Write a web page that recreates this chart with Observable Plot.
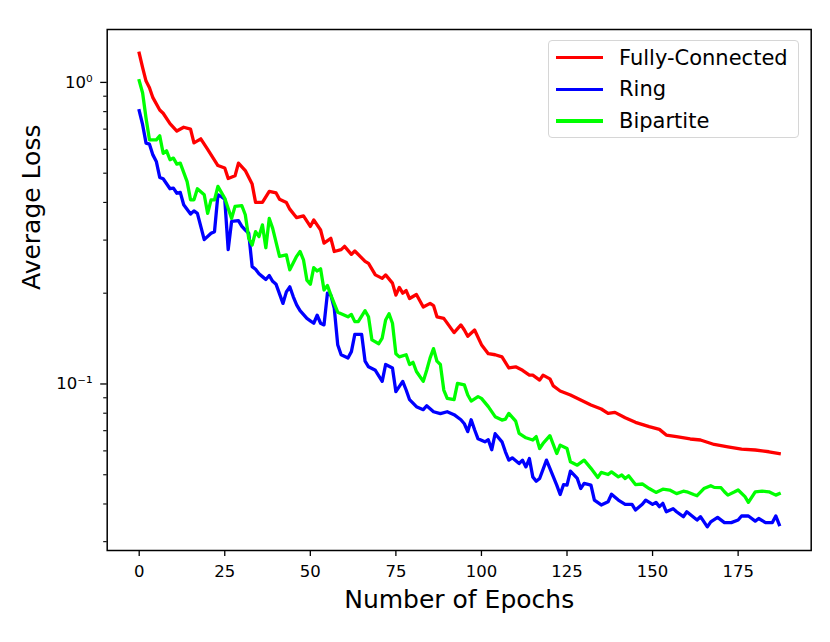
<!DOCTYPE html>
<html>
<head>
<meta charset="utf-8">
<script src="https://cdn.jsdelivr.net/npm/d3@7"></script>
<script src="https://cdn.jsdelivr.net/npm/@observablehq/plot@0.6"></script>
<style>
  html, body { margin: 0; padding: 0; background: #fff; }
  #wrap { position: relative; width: 830px; height: 642px; font-family: "DejaVu Sans", sans-serif; }
  #legend { position: absolute; left: 548px; top: 40px; width: 251px; height: 98px;
            box-sizing: border-box; border: 1.3px solid #d6d6d6; border-radius: 4px; background: rgba(255,255,255,0.8); }
  .row { position: absolute; left: 0; height: 0; }
  .swatch { position: absolute; left: 7px; width: 47px; height: 3.4px; margin-top: -1.7px; }
  .lab { position: absolute; left: 70px; top: -13px; font-size: 21px; line-height: 26px; white-space: nowrap; color: #000; }
</style>
</head>
<body>
<div id="wrap"></div>
<script>
// ---- data (epoch, average loss) ----
const seriesNames = ["Fully-Connected", "Ring", "Bipartite"];
const seriesColors = ["#ff0000", "#0000ff", "#00ff00"];

const fullyConnected = [[0,1.25],[1,1.12],[2,1.01],[3,0.96],[4,0.89],[6,0.81],[7,0.79],[9,0.73],[11,0.69],[13,0.71],[15,0.70],[16,0.63],[18,0.65],[20,0.60],[23,0.53],[25,0.52],[26,0.48],[28,0.49],[29,0.54],[31,0.51],[33,0.46],[34,0.40],[36,0.40],[38,0.435],[40,0.43],[41,0.41],[43,0.40],[44,0.38],[46,0.356],[48,0.361],[50,0.333],[51,0.35],[53,0.324],[54,0.293],[56,0.304],[57,0.275],[59,0.279],[60,0.286],[62,0.269],[63,0.276],[66,0.255],[67,0.251],[69,0.230],[71,0.224],[72,0.230],[74,0.216],[75,0.197],[76,0.209],[77,0.200],[78,0.204],[79,0.192],[81,0.198],[83,0.180],[85,0.185],[86,0.182],[87,0.167],[89,0.165],[92,0.148],[94,0.157],[95,0.151],[96,0.144],[98,0.151],[100,0.135],[102,0.126],[104,0.125],[106,0.123],[108,0.113],[110,0.114],[112,0.111],[114,0.107],[115,0.107],[117,0.103],[118,0.107],[120,0.104],[121,0.0985],[123,0.0948],[126,0.0919],[129,0.0885],[132,0.0852],[135,0.0826],[137,0.0799],[139,0.0805],[142,0.0773],[145,0.0746],[149,0.0722],[152,0.0707],[154,0.0677],[157,0.0669],[161,0.0657],[164,0.0652],[168,0.0630],[172,0.0619],[176,0.0608],[180,0.0604],[184,0.0596],[187,0.0588]];

const ring = [[0,0.806],[1,0.724],[2,0.629],[3,0.624],[4,0.575],[5,0.547],[6,0.484],[7,0.479],[9,0.444],[10,0.446],[11,0.429],[12,0.432],[13,0.393],[15,0.366],[16,0.375],[17,0.368],[19,0.301],[21,0.316],[22,0.320],[23,0.424],[24,0.418],[25,0.41],[26,0.279],[27,0.346],[29,0.348],[30,0.333],[31,0.324],[32,0.316],[33,0.245],[34,0.240],[35,0.232],[36,0.227],[37,0.222],[38,0.229],[39,0.219],[40,0.214],[42,0.185],[43,0.202],[44,0.210],[45,0.195],[46,0.183],[47,0.175],[49,0.165],[50,0.162],[51,0.159],[52,0.169],[53,0.159],[54,0.157],[55,0.200],[56,0.197],[57,0.178],[58,0.135],[59,0.125],[61,0.122],[62,0.128],[63,0.146],[65,0.146],[66,0.119],[67,0.114],[69,0.111],[71,0.102],[72,0.116],[74,0.113],[75,0.0943],[77,0.102],[78,0.0955],[79,0.0887],[81,0.0841],[83,0.0822],[84,0.0847],[86,0.0809],[88,0.0797],[90,0.0809],[92,0.0791],[94,0.0761],[95,0.0738],[96,0.0695],[97,0.0761],[98,0.0705],[99,0.0658],[101,0.0643],[102,0.0653],[103,0.0605],[104,0.0684],[106,0.0643],[107,0.0596],[108,0.0559],[109,0.0569],[111,0.0545],[112,0.0559],[113,0.0531],[114,0.0566],[115,0.0492],[116,0.0476],[117,0.0486],[119,0.0559],[120,0.0525],[122,0.0462],[123,0.0430],[124,0.0464],[125,0.0462],[126,0.0514],[128,0.0486],[129,0.0450],[130,0.0468],[132,0.0462],[133,0.0412],[135,0.0397],[137,0.0407],[138,0.0431],[140,0.0412],[142,0.0399],[144,0.0399],[145,0.0382],[147,0.0399],[148,0.0412],[150,0.0399],[151,0.0405],[152,0.0392],[153,0.0402],[154,0.0377],[156,0.0386],[157,0.0377],[159,0.0363],[160,0.0377],[161,0.0369],[163,0.0354],[164,0.0363],[166,0.0336],[167,0.0349],[169,0.0361],[171,0.0347],[173,0.0347],[175,0.0354],[176,0.0365],[178,0.0365],[180,0.0351],[181,0.0358],[183,0.0347],[185,0.0347],[186,0.0365],[187,0.0342]];

const bipartite = [[0,1.013],[1,0.922],[2,0.761],[3,0.645],[5,0.645],[6,0.665],[7,0.582],[8,0.593],[9,0.554],[10,0.561],[11,0.536],[12,0.540],[14,0.469],[15,0.408],[16,0.408],[17,0.444],[19,0.424],[20,0.368],[21,0.408],[22,0.408],[23,0.452],[25,0.413],[27,0.354],[28,0.388],[30,0.390],[31,0.364],[32,0.304],[33,0.289],[34,0.320],[35,0.308],[36,0.337],[37,0.283],[38,0.354],[39,0.328],[41,0.265],[43,0.268],[44,0.239],[46,0.265],[47,0.275],[48,0.258],[49,0.221],[50,0.214],[51,0.243],[52,0.237],[53,0.241],[54,0.205],[55,0.212],[56,0.197],[58,0.173],[59,0.171],[61,0.167],[62,0.170],[63,0.161],[64,0.161],[66,0.175],[67,0.167],[68,0.140],[70,0.136],[71,0.142],[72,0.163],[73,0.171],[74,0.159],[75,0.126],[76,0.123],[78,0.125],[79,0.116],[80,0.118],[81,0.110],[83,0.102],[84,0.111],[85,0.122],[86,0.131],[87,0.119],[88,0.116],[89,0.0955],[90,0.0896],[92,0.0887],[93,0.1005],[95,0.0993],[96,0.0919],[97,0.0878],[99,0.0908],[100,0.0896],[102,0.0841],[104,0.0779],[106,0.0759],[107,0.0765],[108,0.0799],[110,0.0753],[111,0.0686],[113,0.0663],[115,0.0652],[116,0.0669],[117,0.0611],[118,0.0635],[120,0.0674],[122,0.0588],[123,0.0627],[125,0.0611],[126,0.0552],[128,0.0538],[130,0.0559],[132,0.0525],[134,0.0490],[135,0.0509],[137,0.0501],[138,0.0511],[140,0.0492],[141,0.0499],[142,0.0486],[143,0.0496],[145,0.0464],[147,0.0466],[149,0.0450],[151,0.0437],[153,0.0448],[155,0.0445],[157,0.0433],[159,0.0441],[160,0.0439],[162,0.0430],[163,0.0426],[165,0.0450],[167,0.0460],[168,0.0454],[170,0.0453],[171,0.0439],[172,0.0428],[174,0.0439],[175,0.0445],[177,0.0423],[178,0.0405],[180,0.0439],[182,0.0441],[184,0.0439],[186,0.0428],[187,0.0433]];

const xTicks = [0, 25, 50, 75, 100, 125, 150, 175];
const yMajorTicks = [0.1, 1];
const yMinorTicks = [0.03, 0.04, 0.05, 0.06, 0.07, 0.08, 0.09, 0.2, 0.3, 0.4, 0.5, 0.6, 0.7, 0.8, 0.9];
const yTickLabels = {"0.1": "10\u207B\u00B9", "1": "10\u2070"};
const xLabel = "Number of Epochs";
const yLabel = "Average Loss";

// ---- build table ----
const allSeries = [fullyConnected, ring, bipartite];
const rows = allSeries.flatMap((s, i) => s.map(([epoch, loss]) => ({series: seriesNames[i], epoch, loss})));

const xExtent = d3.extent(rows, d => d.epoch);
const xPad = (xExtent[1] - xExtent[0]) * 0.05;
const lyExtent = d3.extent(rows, d => Math.log10(d.loss));
const lyPad = (lyExtent[1] - lyExtent[0]) * 0.05;

const chart = Plot.plot({
  width: 830,
  height: 642,
  marginLeft: 106.7,
  marginRight: 19.3,
  marginTop: 29,
  marginBottom: 92,
  style: {fontFamily: "DejaVu Sans", fontSize: "16.5px", background: "white", color: "black", overflow: "visible"},
  x: {domain: [xExtent[0] - xPad, xExtent[1] + xPad]},
  y: {type: "log", domain: [Math.pow(10, lyExtent[0] - lyPad), Math.pow(10, lyExtent[1] + lyPad)]},
  color: {domain: seriesNames, range: seriesColors},
  marks: [
    Plot.axisX({ticks: xTicks, tickSize: 6, tickPadding: 9, tickFormat: d => String(d), label: null, strokeWidth: 1.3}),
    Plot.axisY({ticks: yMajorTicks, tickSize: 6.5, tickPadding: 8, tickFormat: d => yTickLabels[String(d)], label: null, strokeWidth: 1.3}),
    Plot.axisY({ticks: yMinorTicks, tickSize: 3.5, tickFormat: () => "", label: null, strokeWidth: 1.1}),
    Plot.line(rows, {x: "epoch", y: "loss", z: "series", stroke: "series", strokeWidth: 3.3, strokeLinejoin: "round", strokeLinecap: "square"}),
    Plot.frame({stroke: "black", strokeWidth: 1.5}),
    Plot.text([xLabel], {frameAnchor: "bottom", lineAnchor: "bottom", dy: 57, fontSize: 25}),
    Plot.text([yLabel], {frameAnchor: "left", lineAnchor: "bottom", rotate: -90, dx: -67.5, fontSize: 25})
  ]
});

const wrap = document.getElementById("wrap");
wrap.appendChild(chart);

// ---- legend (overlaid inside the frame, upper right) ----
const legend = document.createElement("div");
legend.id = "legend";
seriesNames.forEach((name, i) => {
  const row = document.createElement("div");
  row.className = "row";
  row.style.top = (16.7 + i * 31.7) + "px";
  const sw = document.createElement("div");
  sw.className = "swatch";
  sw.style.background = seriesColors[i];
  const lab = document.createElement("div");
  lab.className = "lab";
  lab.textContent = name;
  row.appendChild(sw);
  row.appendChild(lab);
  legend.appendChild(row);
});
wrap.appendChild(legend);
</script>
</body>
</html>
